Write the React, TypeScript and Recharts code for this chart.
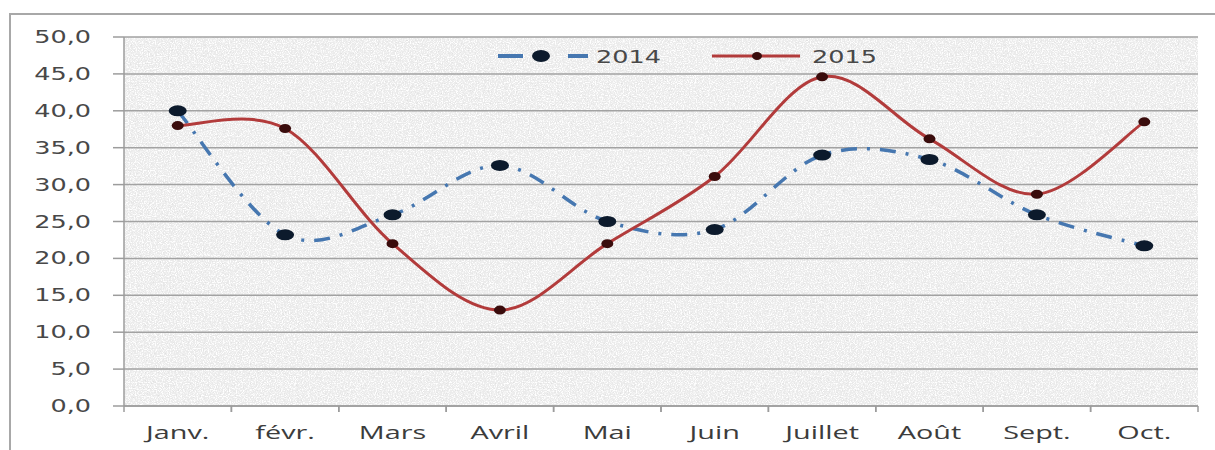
import React from 'react';
import { LineChart, Line, XAxis, YAxis, CartesianGrid } from 'recharts';

const months = ['Janv.', 'févr.', 'Mars', 'Avril', 'Mai', 'Juin', 'Juillet', 'Août', 'Sept.', 'Oct.'];
const values2014 = [40.0, 23.2, 25.9, 32.6, 25.0, 23.9, 34.0, 33.4, 25.9, 21.7];
const values2015 = [38.0, 37.6, 22.0, 13.0, 22.0, 31.1, 44.6, 36.2, 28.7, 38.5];
const yTicks = [0, 5, 10, 15, 20, 25, 30, 35, 40, 45, 50];

const data = months.map((month, i) => ({
  month,
  y2014: values2014[i],
  y2015: values2015[i],
}));

const BLUE = '#4677b0';
const RED = '#b23b3b';
const AXIS = '#9c9c9c';
const STRETCH = 1.5; // labels are drawn wide, like the rest of the sheet

// Excel-style smoothing: uniform Catmull-Rom as cubic beziers
const smoothCurve = (context: any) => {
  let pts: [number, number][] = [];
  return {
    areaStart() {},
    areaEnd() {},
    lineStart() {
      pts = [];
    },
    lineEnd() {
      const n = pts.length;
      if (!n) return;
      context.moveTo(pts[0][0], pts[0][1]);
      for (let i = 0; i < n - 1; i++) {
        const p0 = pts[i - 1] || pts[i];
        const p1 = pts[i];
        const p2 = pts[i + 1];
        const p3 = pts[i + 2] || p2;
        context.bezierCurveTo(
          p1[0] + (p2[0] - p0[0]) / 6,
          p1[1] + (p2[1] - p0[1]) / 6,
          p2[0] - (p3[0] - p1[0]) / 6,
          p2[1] - (p3[1] - p1[1]) / 6,
          p2[0],
          p2[1]
        );
      }
    },
    point(x: number, y: number) {
      pts.push([+x, +y]);
    },
  };
};

const fmt = (v: number) => v.toFixed(1).replace('.', ',');

const YTick = ({ x, y, payload }: any) => (
  <text
    transform={`translate(${x},${y}) scale(${STRETCH},1)`}
    textAnchor="end"
    dy={6}
    fontFamily="DejaVu Sans"
    fontSize={17}
    fill="#484848"
  >
    {fmt(payload.value)}
  </text>
);

const XTick = ({ x, y, payload }: any) => {
  const half = payload.offset || 0;
  return (
    <g>
      <line x1={x - half} x2={x - half} y1={y - 8} y2={y - 2} stroke={AXIS} strokeWidth={1.5} />
      <line x1={x + half} x2={x + half} y1={y - 8} y2={y - 2} stroke={AXIS} strokeWidth={1.5} />
      <text
        transform={`translate(${x},${y}) scale(1.6,1)`}
        textAnchor="middle"
        dy={25}
        fontFamily="Open Sans"
        fontSize={18}
        fill="#3c3c3c"
      >
        {payload.value}
      </text>
    </g>
  );
};

const BlueDot = ({ cx, cy }: any) => (
  <ellipse cx={cx} cy={cy} rx={9} ry={5.5} fill="#0c1a2c" />
);

const RedDot = ({ cx, cy }: any) => (
  <ellipse cx={cx} cy={cy} rx={6} ry={4.5} fill="#3a0c0c" />
);

const LegendBox = () => (
  <div
    style={{
      position: 'absolute',
      left: 496,
      top: 43,
      display: 'flex',
      alignItems: 'center',
      height: 26,
    }}
  >
    <svg width={98} height={20}>
      <line x1={2} x2={27} y1={10} y2={10} stroke={BLUE} strokeWidth={4} />
      <ellipse cx={45} cy={10} rx={9} ry={6} fill="#0c1a2c" />
      <line x1={72} x2={92} y1={10} y2={10} stroke={BLUE} strokeWidth={4} />
    </svg>
    <svg width={118} height={26}>
      <text
        transform="translate(2,20) scale(1.5,1)"
        fontFamily="DejaVu Sans"
        fontSize={17}
        fill="#484848"
      >
        2014
      </text>
    </svg>
    <svg width={92} height={20}>
      <line x1={0} x2={88} y1={10} y2={10} stroke={RED} strokeWidth={3} />
      <ellipse cx={45} cy={10} rx={5} ry={4} fill="#3a0c0c" />
    </svg>
    <svg width={80} height={26}>
      <text
        transform="translate(8,20) scale(1.5,1)"
        fontFamily="DejaVu Sans"
        fontSize={17}
        fill="#484848"
      >
        2015
      </text>
    </svg>
  </div>
);

export default function App() {
  return (
    <div
      style={{
        position: 'absolute',
        left: 0,
        top: 0,
        width: 1215,
        height: 450,
        background: '#fff',
        overflow: 'hidden',
      }}
    >
      <div
        style={{
          position: 'absolute',
          left: 9,
          top: 13,
          width: 1230,
          height: 460,
          borderLeft: '2px solid #a8a8a8',
          borderTop: '2px solid #a8a8a8',
        }}
      />
      <LineChart
        width={1215}
        height={450}
        data={data}
        margin={{ top: 37, right: 17, bottom: 0, left: 0 }}
      >
        <defs>
          <filter id="speckle" x="0" y="0" width="100%" height="100%">
            <feTurbulence type="fractalNoise" baseFrequency="0.85" numOctaves="2" seed="7" />
            <feColorMatrix
              type="matrix"
              values="0 0 0 0 1  0 0 0 0 1  0 0 0 0 1  0 0 0 4 -1.8"
            />
          </filter>
          <filter id="speckleDark" x="0" y="0" width="100%" height="100%">
            <feTurbulence type="fractalNoise" baseFrequency="0.6" numOctaves="2" seed="3" />
            <feColorMatrix
              type="matrix"
              values="0 0 0 0 0.7  0 0 0 0 0.7  0 0 0 0 0.7  0 0 0 3 -1.75"
            />
          </filter>
          <pattern id="granite" patternUnits="userSpaceOnUse" width={400} height={400}>
            <rect width={400} height={400} fill="#ebebeb" />
            <rect width={400} height={400} filter="url(#speckleDark)" />
            <rect width={400} height={400} filter="url(#speckle)" />
          </pattern>
        </defs>
        <CartesianGrid
          vertical={false}
          stroke="#a2a2a2"
          strokeWidth={1.5}
          fill="url(#granite)"
          fillOpacity={1}
        />
        <XAxis
          dataKey="month"
          scale="band"
          height={44}
          axisLine={{ stroke: AXIS, strokeWidth: 1.5 }}
          tickLine={false}
          tick={<XTick />}
          interval={0}
        />
        <YAxis
          width={124}
          domain={[0, 50]}
          ticks={yTicks}
          interval={0}
          axisLine={{ stroke: AXIS, strokeWidth: 1.5 }}
          tickLine={{ stroke: AXIS, strokeWidth: 1.5 }}
          tickSize={11}
          tickMargin={22}
          tick={<YTick />}
        />
        <Line
          dataKey="y2014"
          name="2014"
          type={smoothCurve as any}
          stroke={BLUE}
          strokeWidth={3.5}
          strokeDasharray="16 10 3 10"
          dot={<BlueDot />}
          activeDot={false}
          isAnimationActive={false}
        />
        <Line
          dataKey="y2015"
          name="2015"
          type={smoothCurve as any}
          stroke={RED}
          strokeWidth={3}
          dot={<RedDot />}
          activeDot={false}
          isAnimationActive={false}
        />
      </LineChart>
      <LegendBox />
    </div>
  );
}
